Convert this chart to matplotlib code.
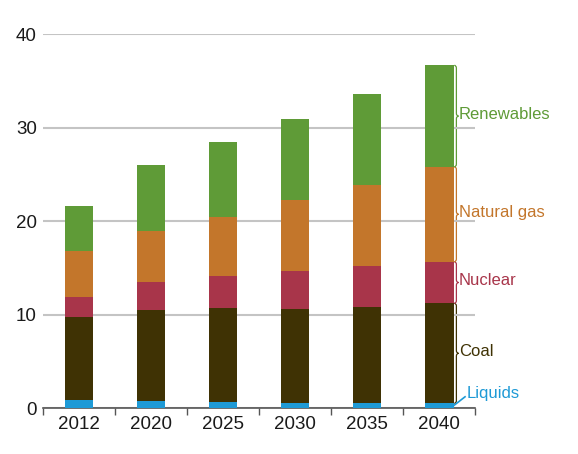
import numpy as np
import matplotlib
matplotlib.use("Agg")
import matplotlib.pyplot as plt
from matplotlib.path import Path
from matplotlib.patches import PathPatch

plt.rcParams["font.family"] = ["Liberation Sans", "DejaVu Sans"]

years = ["2012", "2020", "2025", "2030", "2035", "2040"]
sources = ["Liquids", "Coal", "Nuclear", "Natural gas", "Renewables"]
liquids = [0.9, 0.8, 0.65, 0.5, 0.5, 0.5]
coal = [8.85, 9.7, 10.0, 10.1, 10.3, 10.7]
nuclear = [2.15, 3.0, 3.5, 4.05, 4.4, 4.45]
natural_gas = [4.9, 5.4, 6.25, 7.55, 8.7, 10.15]
renewables = [4.8, 7.05, 8.0, 8.7, 9.65, 10.85]
colors = ["#1e9ad6", "#3f3204", "#a8354a", "#c3762b", "#5f9b37"]


def brace(ax, x, y0, y1, w, color):
    """Right-facing curly brace from y0 to y1 at x (data coords)."""
    ym = (y0 + y1) / 2
    d = min(0.3, (y1 - y0) / 4)
    xm = x + w / 2
    verts = [(x, y0), (xm, y0), (xm, y0 + d),
             (xm, ym - d), (xm, ym), (x + w, ym),
             (xm, ym), (xm, ym + d),
             (xm, y1 - d), (xm, y1), (x, y1)]
    codes = [Path.MOVETO, Path.CURVE3, Path.CURVE3,
             Path.LINETO, Path.CURVE3, Path.CURVE3,
             Path.CURVE3, Path.CURVE3,
             Path.LINETO, Path.CURVE3, Path.CURVE3]
    ax.add_patch(PathPatch(Path(verts, codes), fill=False, ec=color, lw=0.9,
                           clip_on=False))


fig = plt.figure(figsize=(5.78, 4.54), dpi=100)
ax = fig.add_axes([0.0744, 0.1013, 0.7476, 0.8237])

x = np.arange(len(years))
series = [liquids, coal, nuclear, natural_gas, renewables]
bottom = np.zeros(len(years))
for vals, c in zip(series, colors):
    ax.bar(x, vals, width=0.4, bottom=bottom, color=c, zorder=3)
    bottom += np.array(vals)

ax.set_xlim(-0.5, len(years) - 0.5)
ax.set_ylim(0, 40)
ax.set_yticks([0, 10, 20, 30, 40])
ax.yaxis.grid(True, color="#c4c4c4", lw=1.5, zorder=0)
ax.tick_params(axis="y", length=0, pad=4.5, labelsize=13.5, colors="#1a1a1a")
ax.set_xticks(x)
ax.set_xticklabels(years)
ax.set_xticks(np.arange(-0.5, len(years)), minor=True)
ax.tick_params(axis="x", which="major", length=0, pad=5.5, labelsize=13.5,
               colors="#1a1a1a")
ax.tick_params(axis="x", which="minor", length=5, width=1, color="#555555")
for s in ["left", "right", "top"]:
    ax.spines[s].set_visible(False)
ax.spines["bottom"].set_color("#555555")
ax.spines["bottom"].set_linewidth(1.2)

# braces and labels on the last bar
last = len(years) - 1
xr = last + 0.2 + 0.01
bw = 0.06
tops = np.cumsum([s[last] for s in series])
bots = tops - np.array([s[last] for s in series])
for i, (name, c) in enumerate(zip(sources, colors)):
    if name == "Liquids":
        ax.plot([xr, xr + 0.15], [0.3, 1.2], color=c, lw=1.2, clip_on=False)
        ax.text(xr + 0.17, 1.5, name, color=c, fontsize=12, va="center",
                ha="left")
        continue
    brace(ax, xr, bots[i], tops[i], bw, c)
    ax.text(xr + bw + 0.005, (bots[i] + tops[i]) / 2 + 0.2, name, color=c,
            fontsize=12, va="center", ha="left")

fig.savefig("out.png", dpi=100)
